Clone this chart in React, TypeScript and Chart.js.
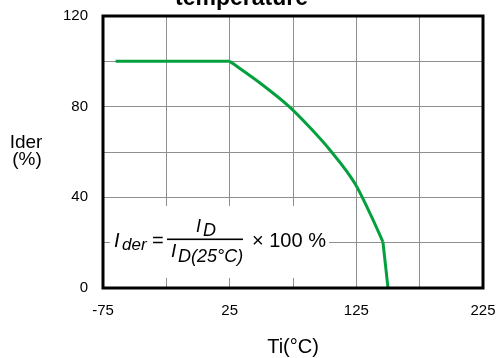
import React, { useEffect, useRef } from "react";
import { Chart, registerables } from "chart.js";

Chart.register(...registerables);

const flatTemps = [-65, 25];
const flatValues = [100, 100];
const curveTemps = [25, 50, 72, 88, 104, 124, 137, 146];
const curveValues = [100, 90, 80, 71, 61, 46, 31.5, 20.3];
const dropTemps = [146, 150];
const dropValues = [20.3, 0];
const xTickLabels = [-75, 25, 125, 225];
const yTickLabels = [0, 40, 80, 120];

const FONT = "'Liberation Sans', Arial, sans-serif";
const GREEN = "#05a03e";

const toPoints = (xs: number[], ys: number[]) => xs.map((x, i) => ({ x, y: ys[i] }));

const textPlugin = {
  id: "customText",
  beforeDatasetsDraw(chart: any) {
    const ctx = chart.ctx;
    const a = chart.chartArea;
    const ox = a.left;
    const oy = a.top;
    ctx.save();
    ctx.fillStyle = "#ffffff";
    ctx.fillRect(ox + 7, oy + 190, 219, 72);
    ctx.fillStyle = "#000000";
    ctx.textBaseline = "alphabetic";
    ctx.textAlign = "left";
    ctx.font = `italic 20px ${FONT}`;
    ctx.fillText("I", ox + 11, oy + 231);
    ctx.font = `italic 17px ${FONT}`;
    ctx.fillText("der", ox + 19, oy + 234);
    ctx.font = `20px ${FONT}`;
    ctx.fillText("=", ox + 49, oy + 231);
    ctx.font = `italic 18px ${FONT}`;
    ctx.fillText("I", ox + 93, oy + 216);
    ctx.fillText("D", ox + 100, oy + 220);
    ctx.fillRect(ox + 64, oy + 222.5, 76, 1.6);
    ctx.font = `italic 19px ${FONT}`;
    ctx.fillText("I", ox + 68, oy + 241);
    ctx.font = `italic 18px ${FONT}`;
    ctx.fillText("D(25°C)", ox + 75, oy + 246);
    ctx.font = `20px ${FONT}`;
    ctx.fillText("× 100 %", ox + 149, oy + 231);
    ctx.restore();
  },
  afterDraw(chart: any) {
    const ctx = chart.ctx;
    const a = chart.chartArea;
    ctx.save();
    ctx.strokeStyle = "#000000";
    ctx.lineWidth = 3;
    ctx.strokeRect(a.left, a.top, a.right - a.left, a.bottom - a.top);
    ctx.fillStyle = "#000000";
    ctx.font = `bold 23px ${FONT}`;
    ctx.textAlign = "left";
    ctx.textBaseline = "alphabetic";
    ctx.fillText("temperature", 175, 5);
    ctx.font = `19px ${FONT}`;
    ctx.textAlign = "center";
    ctx.fillText("Ider", 26, 148);
    ctx.fillText("(%)", 27, 165);
    ctx.font = `20px ${FONT}`;
    ctx.fillText("Ti(°C)", (a.left + a.right) / 2, 353);
    ctx.restore();
  },
};

export default function App() {
  const ref = useRef<HTMLCanvasElement | null>(null);
  useEffect(() => {
    if (!ref.current) return;
    const line = { borderColor: GREEN, borderWidth: 3, pointRadius: 0, fill: false };
    const chart = new Chart(ref.current, {
      type: "line",
      data: {
        datasets: [
          { ...line, data: toPoints(flatTemps, flatValues), tension: 0 },
          { ...line, data: toPoints(curveTemps, curveValues), cubicInterpolationMode: "monotone" },
          { ...line, data: toPoints(dropTemps, dropValues), tension: 0 },
        ],
      },
      options: {
        responsive: false,
        animation: false,
        layout: { padding: { left: 0, right: 13, top: 16, bottom: 0 } },
        plugins: {
          legend: { display: false },
          title: { display: false },
          tooltip: { enabled: false },
        },
        scales: {
          x: {
            type: "linear",
            min: -75,
            max: 225,
            ticks: {
              stepSize: 50,
              padding: 14,
              color: "#000000",
              font: { family: FONT, size: 15 },
              maxRotation: 0,
              autoSkip: false,
              callback: (v: any) => (xTickLabels.includes(Number(v)) ? String(v) : ""),
            },
            grid: { color: "#8f8f8f", lineWidth: 1, drawTicks: false },
            border: { display: false },
            afterFit: (s: any) => {
              s.height = 70;
              s.paddingLeft = 0;
              s.paddingRight = 0;
            },
          },
          y: {
            type: "linear",
            min: 0,
            max: 120,
            ticks: {
              stepSize: 20,
              padding: 15,
              color: "#000000",
              font: { family: FONT, size: 15 },
              autoSkip: false,
              callback: (v: any) => (yTickLabels.includes(Number(v)) ? String(v) : ""),
            },
            grid: { color: "#8f8f8f", lineWidth: 1, drawTicks: false },
            border: { display: false },
            afterFit: (s: any) => {
              s.width = 103;
              s.paddingTop = 0;
              s.paddingBottom = 0;
            },
          },
        },
      },
      plugins: [textPlugin],
    });
    return () => chart.destroy();
  }, []);
  return (
    <div style={{ position: "absolute", left: 0, top: 0, width: 496, height: 358, background: "#ffffff" }}>
      <canvas ref={ref} width={496} height={358} style={{ display: "block" }} />
    </div>
  );
}
